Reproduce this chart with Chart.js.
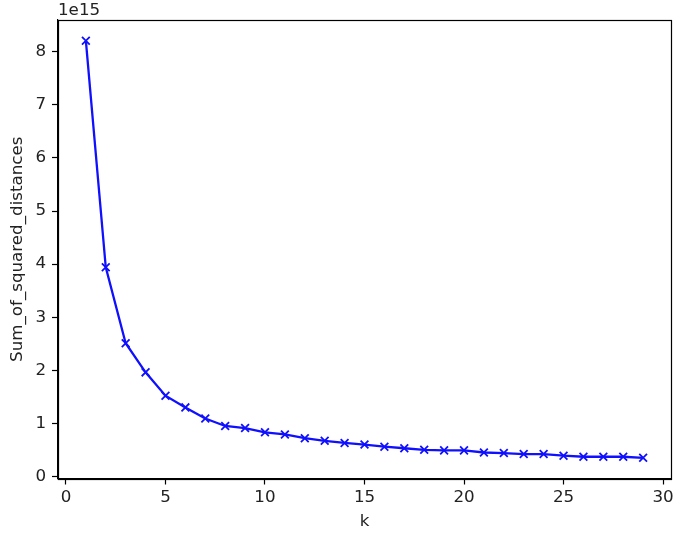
<!DOCTYPE html>
<html>
<head>
<meta charset="utf-8">
<script src="https://cdn.jsdelivr.net/npm/chart.js@4/dist/chart.umd.min.js"></script>
<style>
  html, body { margin: 0; padding: 0; background: #fff; }
  #wrap { width: 684px; height: 537px; }
</style>
</head>
<body>
<div id="wrap"><canvas id="c" width="684" height="537"></canvas></div>
<script>
const kValues = [1,2,3,4,5,6,7,8,9,10,11,12,13,14,15,16,17,18,19,20,21,22,23,24,25,26,27,28,29];
const sumSquaredDistances = [8.21,3.94,2.51,1.96,1.52,1.30,1.09,0.95,0.91,0.83,0.79,0.72,0.67,0.63,0.60,0.56,0.53,0.50,0.49,0.49,0.45,0.44,0.42,0.42,0.39,0.37,0.37,0.37,0.35];
const xTicks = [0,5,10,15,20,25,30];
const yTicks = [0,1,2,3,4,5,6,7,8];
const xTitle = 'k';
const yTitle = 'Sum_of_squared_distances';
const offsetText = '1e15';

const FONT = 'DejaVu Sans';
const FS = 16.7;
const frame = {
  id: 'frame',
  afterDraw(chart) {
    const {ctx, chartArea: a} = chart;
    ctx.save();
    ctx.strokeStyle = '#000';
    ctx.lineWidth = 1.2;
    ctx.strokeRect(Math.round(a.left) + 0.5, Math.round(a.top) + 0.5, Math.round(a.right - a.left), Math.round(a.bottom - a.top));
    ctx.fillStyle = '#222';
    ctx.font = FS + 'px "' + FONT + '"';
    ctx.textBaseline = 'bottom';
    ctx.textAlign = 'left';
    ctx.fillText(offsetText, a.left, a.top - 1);
    ctx.restore();
  }
};

new Chart(document.getElementById('c'), {
  type: 'line',
  data: {
    datasets: [{
      data: kValues.map((k, i) => ({x: k, y: sumSquaredDistances[i]})),
      borderColor: '#1010ff',
      backgroundColor: '#1010ff',
      borderWidth: 2.3,
      pointStyle: 'crossRot',
      pointRadius: 5.5,
      pointBorderWidth: 1.8,
      pointBorderColor: '#1010ff',
      tension: 0,
      fill: false
    }]
  },
  options: {
    responsive: false,
    animation: false,
    devicePixelRatio: 1,
    layout: { padding: { top: 20, right: 13, left: 0, bottom: 0 } },
    plugins: { legend: { display: false }, tooltip: { enabled: false } },
    scales: {
      x: {
        type: 'linear',
        min: -0.4, max: 30.4,
        afterBuildTicks(s) { s.ticks = xTicks.map(v => ({value: v})); },
        afterFit(s) { s.height = 58.5; },
        grid: { drawOnChartArea: false, tickLength: 6, tickColor: '#000', tickWidth: 1.2 },
        border: { color: '#000', width: 1.2 },
        ticks: { color: '#222', font: { family: FONT, size: FS }, padding: 3, maxRotation: 0, autoSkip: false },
        title: { display: true, text: xTitle, color: '#222', font: { family: FONT, size: FS }, padding: { top: 0, bottom: 5 } }
      },
      y: {
        type: 'linear',
        min: -0.04, max: 8.6,
        afterBuildTicks(s) { s.ticks = yTicks.map(v => ({value: v})); },
        afterFit(s) { s.width = 58; },
        grid: { drawOnChartArea: false, tickLength: 6, tickColor: '#000', tickWidth: 1.2 },
        border: { color: '#000', width: 1.2 },
        ticks: { color: '#222', font: { family: FONT, size: FS }, padding: 6, autoSkip: false },
        title: { display: true, text: yTitle, color: '#222', font: { family: FONT, size: FS }, padding: { top: 8, bottom: 0 } }
      }
    }
  },
  plugins: [frame]
});
</script>
</body>
</html>
